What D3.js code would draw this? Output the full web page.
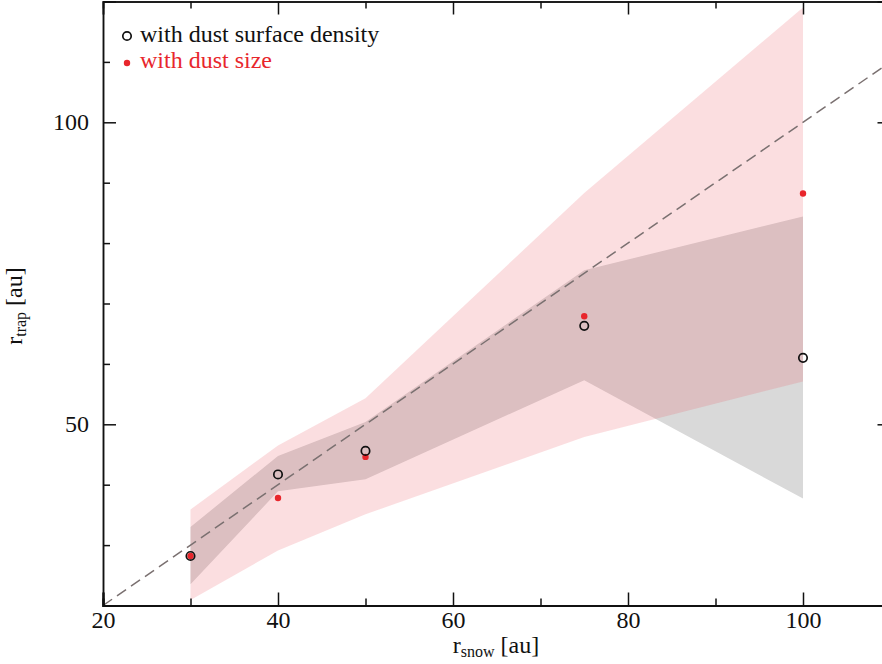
<!DOCTYPE html>
<html>
<head>
<meta charset="utf-8">
<script src="https://cdn.jsdelivr.net/npm/d3@7"></script>
<style>
  html, body { margin: 0; padding: 0; background: #fff; }
  svg { display: block; }
  text { font-family: "Liberation Serif", "Times New Roman", serif; }
</style>
</head>
<body>
<svg id="chart" width="882" height="664"></svg>
<script>
// ---- data ----
const rsnow = [30, 40, 50, 75, 100];
const rtrapDensity = [28.2, 41.7, 45.6, 66.3, 61.0];
const rtrapSize = [28.2, 37.8, 44.6, 67.9, 88.2];
const densityLow = [23.5, 38.9, 40.9, 57.3, 37.7];
const densityHigh = [33.0, 44.75, 50.4, 75.5, 84.4];
const sizeLow = [20.9, 29.1, 35.1, 47.9, 57.1];
const sizeHigh = [35.9, 46.5, 54.3, 88.3, 119.0];
const xMajorTicks = [20, 40, 60, 80, 100];
const xMinorTicks = [30, 50, 70, 90, 110];
const yMajorTicks = [50, 100];
const yMinorTicks = [30, 40, 60, 70, 80, 90, 110];
const legendLabels = ["with dust surface density", "with dust size"];

const FONT = "'Liberation Serif', 'Times New Roman', serif";
const FS = 24, FSUB = 16;

const svg = d3.select("#chart");
const x = d3.scaleLinear().domain([20, 110]).range([103, 890.5]);
const y = d3.scaleLinear().domain([20, 120]).range([605.5, 1.5]);

const pink = "rgba(234,72,82,0.18)";
const gray = "#d9d9d9";
const red = "#e8262c";

// bands
const area = d3.area()
  .x(d => x(d.x)).y0(d => y(d.lo)).y1(d => y(d.hi));
const densBand = rsnow.map((v, i) => ({x: v, lo: densityLow[i], hi: densityHigh[i]}));
const sizeBand = rsnow.map((v, i) => ({x: v, lo: sizeLow[i], hi: sizeHigh[i]}));
svg.append("path").datum(densBand).attr("d", area).attr("fill", gray);
svg.append("path").datum(sizeBand).attr("d", area).attr("fill", pink);

// 1:1 dashed line
svg.append("path")
  .datum([20, 110])
  .attr("d", d3.line().x(d => x(d)).y(d => y(d)))
  .attr("stroke", "#7a7070").attr("stroke-width", 1.5)
  .attr("stroke-dasharray", "11,6").attr("fill", "none");

// points
svg.selectAll("circle.size").data(rsnow).join("circle")
  .attr("class", "size")
  .attr("cx", d => x(d)).attr("cy", (d, i) => y(rtrapSize[i]))
  .attr("r", 3.2).attr("fill", red);
svg.selectAll("circle.dens").data(rsnow).join("circle")
  .attr("class", "dens")
  .attr("cx", d => x(d)).attr("cy", (d, i) => y(rtrapDensity[i]))
  .attr("r", 4.2).attr("fill", "none").attr("stroke", "#111").attr("stroke-width", 1.7);

// axes
function styleAxis(g, width) {
  g.attr("font-family", FONT).attr("font-size", FS);
  g.select(".domain").attr("stroke", "#111").attr("stroke-width", width);
  g.selectAll(".tick line").attr("stroke", "#111").attr("stroke-width", 1.5);
  g.selectAll("text").style("font-family", FONT).style("font-size", FS + "px").attr("fill", "#111");
}
// bottom
const gb = svg.append("g").attr("transform", `translate(0,${y(20)})`)
  .call(d3.axisBottom(x).tickValues(xMajorTicks).tickSize(-13).tickPadding(5).tickFormat(d3.format("d")));
styleAxis(gb, 2.2);
const gbm = svg.append("g").attr("transform", `translate(0,${y(20)})`)
  .call(d3.axisBottom(x).tickValues(xMinorTicks).tickSize(-7).tickFormat(""));
styleAxis(gbm, 2.2);
// top
const gt = svg.append("g").attr("transform", `translate(0,${y(120)})`)
  .call(d3.axisTop(x).tickValues(xMajorTicks).tickSize(-13).tickFormat(""));
styleAxis(gt, 1.5);
const gtm = svg.append("g").attr("transform", `translate(0,${y(120)})`)
  .call(d3.axisTop(x).tickValues(xMinorTicks).tickSize(-7).tickFormat(""));
styleAxis(gtm, 1.5);
// left
const gl = svg.append("g").attr("transform", `translate(${x(20)},0)`)
  .call(d3.axisLeft(y).tickValues(yMajorTicks).tickSize(-13).tickPadding(14).tickFormat(d3.format("d")));
styleAxis(gl, 1.5);
const glm = svg.append("g").attr("transform", `translate(${x(20)},0)`)
  .call(d3.axisLeft(y).tickValues(yMinorTicks).tickSize(-7).tickFormat(""));
styleAxis(glm, 1.5);
// right
const gr = svg.append("g").attr("transform", `translate(${x(110)},0)`)
  .call(d3.axisRight(y).tickValues(yMajorTicks).tickSize(-13).tickFormat(""));
styleAxis(gr, 1.5);
const grm = svg.append("g").attr("transform", `translate(${x(110)},0)`)
  .call(d3.axisRight(y).tickValues(yMinorTicks).tickSize(-7).tickFormat(""));
styleAxis(grm, 1.5);

// axis titles
const xt = svg.append("text").attr("x", 496).attr("y", 653)
  .attr("text-anchor", "middle").style("font-size", FS + "px").attr("fill", "#111");
xt.append("tspan").text("r");
xt.append("tspan").style("font-size", FSUB + "px").attr("dy", 4).text("snow");
xt.append("tspan").attr("dy", -4).text(" [au]");

const yt = svg.append("text").attr("transform", "translate(22,306) rotate(-90)")
  .attr("text-anchor", "middle").style("font-size", FS + "px").attr("fill", "#111");
yt.append("tspan").text("r");
yt.append("tspan").style("font-size", FSUB + "px").attr("dy", 4).text("trap");
yt.append("tspan").attr("dy", -4).text(" [au]");

// legend
const leg = svg.append("g");
leg.append("circle").attr("cx", 127).attr("cy", 36).attr("r", 4.2)
  .attr("fill", "none").attr("stroke", "#111").attr("stroke-width", 1.7);
leg.append("text").attr("x", 140).attr("y", 42).style("font-size", FS + "px").attr("fill", "#111").text(legendLabels[0]);
leg.append("circle").attr("cx", 127).attr("cy", 63).attr("r", 3.2).attr("fill", red);
leg.append("text").attr("x", 140).attr("y", 68).style("font-size", FS + "px").attr("fill", red).text(legendLabels[1]);
</script>
</body>
</html>
